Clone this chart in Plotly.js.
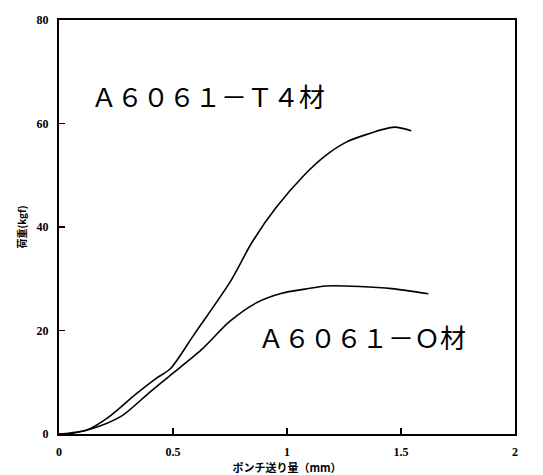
<!DOCTYPE html>
<html>
<head>
<meta charset="utf-8">
<script src="https://cdn.plot.ly/plotly-3.0.1.min.js"></script>
<style>html,body{margin:0;padding:0;background:#fff;}#chart{width:543px;height:475px;}</style>
</head>
<body>
<div id="chart"></div>
<script>
// Punch feed (mm) vs load (kgf)
const t4X = [0, 0.05, 0.122, 0.213, 0.337, 0.428, 0.488, 0.595, 0.752, 0.846, 0.953, 1.077, 1.169, 1.26, 1.35, 1.47, 1.545];
const t4Y = [0, 0.2, 0.75, 3.1, 7.7, 10.8, 12.6, 19.4, 29.5, 37.0, 43.8, 50.1, 53.8, 56.4, 57.9, 59.3, 58.6];
const oX = [0, 0.05, 0.136, 0.272, 0.396, 0.487, 0.625, 0.75, 0.868, 0.977, 1.08, 1.17, 1.32, 1.46, 1.62];
const oY = [0, 0.1, 0.9, 3.4, 8.0, 11.3, 16.3, 21.8, 25.4, 27.2, 28.0, 28.6, 28.5, 28.1, 27.1];
const xTicks = [0, 0.5, 1, 1.5, 2];
const xTickText = ['0', '0.5', '1', '1.5', '2'];
const yTicks = [0, 20, 40, 60, 80];
const labelT4 = 'Ａ６０６１－Ｔ４材';
const labelO = 'Ａ６０６１－Ｏ材';
const xTitle = 'ポンチ送り量（mm）';
const yTitle = '荷重(kgf)';

const lineStyle = {color: '#000', width: 1.6, shape: 'spline', smoothing: 0.8};
const data = [
  {x: t4X, y: t4Y, mode: 'lines', line: lineStyle, showlegend: false, hoverinfo: 'skip'},
  {x: oX, y: oY, mode: 'lines', line: lineStyle, showlegend: false, hoverinfo: 'skip'}
];
const tickFont = {family: 'Liberation Serif, serif', size: 12, color: '#000', weight: 'bold'};
const layout = {
  width: 543, height: 475,
  margin: {l: 59, r: 28, t: 20, b: 41},
  paper_bgcolor: '#fff', plot_bgcolor: '#fff',
  xaxis: {
    range: [0, 2], tickvals: xTicks, ticktext: xTickText,
    ticks: 'inside', ticklen: 6, tickwidth: 1.5, tickcolor: '#000',
    showline: true, linecolor: '#000', linewidth: 2, mirror: true,
    showgrid: false, zeroline: false, tickfont: tickFont, ticklabelstandoff: 6,
    title: {text: xTitle, font: {family: 'Noto Sans CJK JP', size: 11, color: '#000', weight: 'bold'}, standoff: 0}
  },
  yaxis: {
    range: [0, 80], tickvals: yTicks,
    ticks: 'inside', ticklen: 6, tickwidth: 1.5, tickcolor: '#000',
    showline: true, linecolor: '#000', linewidth: 2, mirror: true,
    showgrid: false, zeroline: false, tickfont: tickFont, ticklabelstandoff: 6,
    title: {text: yTitle, font: {family: 'Noto Sans CJK JP', size: 10, color: '#000', weight: 'bold'}, standoff: 8}
  },
  annotations: [
    {x: 0.654, y: 65.4, xref: 'x', yref: 'y', text: labelT4, showarrow: false,
     xanchor: 'center', yanchor: 'middle', font: {family: 'Noto Sans CJK JP', size: 26, color: '#000'}},
    {x: 1.33, y: 18.9, xref: 'x', yref: 'y', text: labelO, showarrow: false,
     xanchor: 'center', yanchor: 'middle', font: {family: 'Noto Sans CJK JP', size: 26, color: '#000'}}
  ]
};
Plotly.newPlot('chart', data, layout, {displayModeBar: false, staticPlot: true});
</script>
</body>
</html>
